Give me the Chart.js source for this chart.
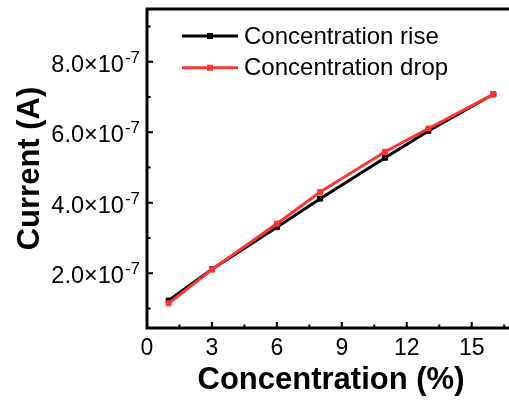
<!DOCTYPE html>
<html>
<head>
<meta charset="utf-8">
<script src="https://cdn.jsdelivr.net/npm/chart.js@4/dist/chart.umd.min.js"></script>
<style>
    html, body { margin: 0; padding: 0; background: #fff; overflow: hidden; width: 509px; height: 407px; }
    #wrap { width: 520px; height: 407px; }
</style>
</head>
<body>
<div id="wrap"><canvas id="currentChart" width="520" height="407"></canvas></div>
<script>
const concentration = [1, 3, 6, 8, 11, 13, 16];
const currentRise = [1.23e-7, 2.12e-7, 3.31e-7, 4.12e-7, 5.28e-7, 6.04e-7, 7.08e-7];
const currentDrop = [1.15e-7, 2.11e-7, 3.41e-7, 4.31e-7, 5.45e-7, 6.11e-7, 7.08e-7];

const xTicks = [0, 3, 6, 9, 12, 15];
const xMinorTicks = [1.5, 4.5, 7.5, 10.5, 13.5, 16.5];
const yTicks = [2e-7, 4e-7, 6e-7, 8e-7];
const yMinorTicks = [1e-7, 3e-7, 5e-7, 7e-7, 9e-7];
const yTickMantissa = ['2.0', '4.0', '6.0', '8.0'];
const yTickExponent = '-7';

const FONT = '"Liberation Sans", Arial, sans-serif';
const RED = '#ff3333';

function toPoints(xs, ys) {
    return xs.map((x, i) => ({ x: x, y: ys[i] }));
}

// frame, inward ticks, y labels with superscript and the inset legend
const framePlugin = {
    id: 'frame',
    afterDraw(chart) {
        const ctx = chart.ctx;
        const area = chart.chartArea;
        const xs = chart.scales.x;
        const ys = chart.scales.y;

        ctx.save();
        ctx.strokeStyle = '#000';
        ctx.lineWidth = 3;
        ctx.lineCap = 'square';
        ctx.strokeRect(area.left, area.top, area.right - area.left, area.bottom - area.top);

        ctx.lineCap = 'butt';
        ctx.lineWidth = 2;
        ctx.beginPath();
        xTicks.forEach(v => {
            const px = xs.getPixelForValue(v);
            ctx.moveTo(px, area.bottom);
            ctx.lineTo(px, area.bottom - 6);
        });
        xMinorTicks.forEach(v => {
            const px = xs.getPixelForValue(v);
            ctx.moveTo(px, area.bottom);
            ctx.lineTo(px, area.bottom - 3.5);
        });
        yTicks.forEach(v => {
            const py = ys.getPixelForValue(v);
            ctx.moveTo(area.left, py);
            ctx.lineTo(area.left + 6, py);
        });
        yMinorTicks.forEach(v => {
            const py = ys.getPixelForValue(v);
            ctx.moveTo(area.left, py);
            ctx.lineTo(area.left + 3.5, py);
        });
        ctx.stroke();

        // y tick labels, e.g. 8.0×10^-7
        ctx.fillStyle = '#000';
        ctx.textBaseline = 'alphabetic';
        const labelRight = area.left - 7;
        yTicks.forEach((v, i) => {
            const py = ys.getPixelForValue(v);
            ctx.font = '17px ' + FONT;
            const expW = ctx.measureText(yTickExponent).width;
            ctx.textAlign = 'left';
            ctx.fillText(yTickExponent, labelRight - expW, py + 1);
            ctx.font = '23.5px ' + FONT;
            ctx.textAlign = 'right';
            ctx.fillText(yTickMantissa[i] + '×10', labelRight - expW - 1, py + 10);
        });

        // legend
        const legendSets = [chart.data.datasets[0], chart.data.datasets[1]];
        legendSets.forEach((ds, i) => {
            const ly = 36 + i * 31.7;
            ctx.strokeStyle = ds.borderColor;
            ctx.lineWidth = 3;
            ctx.beginPath();
            ctx.moveTo(182, ly);
            ctx.lineTo(238, ly);
            ctx.stroke();
            ctx.fillStyle = ds.borderColor;
            ctx.fillRect(207, ly - 3, 6, 6);
            ctx.fillStyle = '#000';
            ctx.font = '24px ' + FONT;
            ctx.textAlign = 'left';
            ctx.textBaseline = 'middle';
            ctx.fillText(ds.label, 244, ly + 1);
        });
        ctx.restore();
    }
};

function initChart() {
    const ctx = document.getElementById('currentChart').getContext('2d');

    new Chart(ctx, {
        type: 'line',
        data: {
            datasets: [{
                label: 'Concentration rise',
                data: toPoints(concentration, currentRise),
                borderColor: '#000',
                backgroundColor: '#000',
                borderWidth: 3,
                pointStyle: 'rect',
                pointRadius: 3.5,
                pointBorderWidth: 1,
                tension: 0,
                order: 1
            }, {
                label: 'Concentration drop',
                data: toPoints(concentration, currentDrop),
                borderColor: RED,
                backgroundColor: RED,
                borderWidth: 3,
                pointStyle: 'rect',
                pointRadius: 3.5,
                pointBorderWidth: 1,
                tension: 0,
                order: 0
            }]
        },
        options: {
            responsive: false,
            animation: false,
            layout: { padding: { top: 9, right: 3.5, bottom: 0, left: 0 } },
            plugins: {
                legend: { display: false },
                tooltip: { enabled: false }
            },
            scales: {
                x: {
                    type: 'linear',
                    min: 0,
                    max: 17,
                    grid: { display: false, drawTicks: false },
                    border: { display: false },
                    afterBuildTicks: s => { s.ticks = xTicks.map(v => ({ value: v })); },
                    afterFit: s => { s.height = 79; },
                    ticks: {
                        color: '#000',
                        font: { family: FONT, size: 23 },
                        padding: 7,
                        maxRotation: 0,
                        autoSkip: false
                    },
                    title: {
                        display: true,
                        text: 'Concentration (%)',
                        color: '#000',
                        font: { family: FONT, size: 31, weight: 'bold' },
                        padding: { top: 0, bottom: 8 }
                    }
                },
                y: {
                    min: 0.45e-7,
                    max: 9.5e-7,
                    grid: { display: false, drawTicks: false },
                    border: { display: false },
                    afterBuildTicks: s => { s.ticks = yTicks.map(v => ({ value: v })); },
                    afterFit: s => { s.width = 147; },
                    ticks: { display: false },
                    title: {
                        display: true,
                        text: 'Current (A)',
                        color: '#000',
                        font: { family: FONT, size: 31, weight: 'bold' },
                        padding: { top: 12, bottom: 0 }
                    }
                }
            }
        },
        plugins: [framePlugin]
    });
}

document.addEventListener('DOMContentLoaded', initChart);
</script>
</body>
</html>
